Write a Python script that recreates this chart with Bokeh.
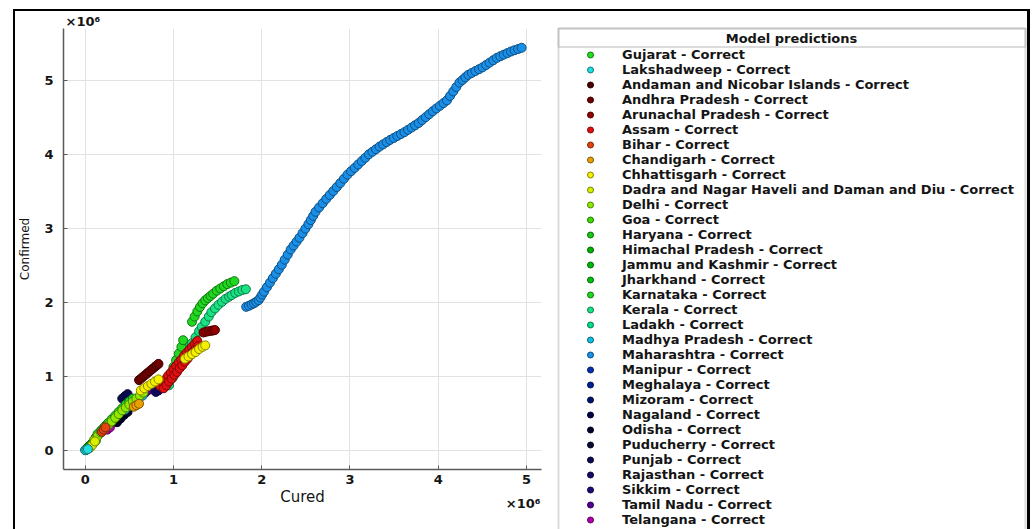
from bokeh.plotting import figure
from bokeh.layouts import row
from bokeh.models import Range1d, FixedTicker, Legend, LegendItem, BoxAnnotation, Label, Title
from bokeh.embed import file_html
from bokeh.resources import INLINE

# ---------------- data (values in millions) ----------------
legend_states = ["Gujarat", "Lakshadweep", "Andaman and Nicobar Islands", "Andhra Pradesh",
                 "Arunachal Pradesh", "Assam", "Bihar", "Chandigarh", "Chhattisgarh",
                 "Dadra and Nagar Haveli and Daman and Diu", "Delhi", "Goa", "Haryana",
                 "Himachal Pradesh", "Jammu and Kashmir", "Jharkhand", "Karnataka", "Kerala",
                 "Ladakh", "Madhya Pradesh", "Maharashtra", "Manipur", "Meghalaya", "Mizoram",
                 "Nagaland", "Odisha", "Puducherry", "Punjab", "Rajasthan", "Sikkim",
                 "Tamil Nadu", "Telangana", "Tripura"]
state_colors = ["#22dd22", "#22dddd", "#4a0000", "#6e0000", "#930000", "#e01010", "#e04410",
                "#eaa000", "#f5f000", "#d8f000", "#8eea00", "#3ddd00", "#14c814", "#00b400",
                "#00b80c", "#00c010", "#1fd81f", "#19e283", "#00dd88", "#14bbe0", "#1a8fe8",
                "#0a2eb0", "#001f90", "#001270", "#000048", "#00002a", "#0a0a38", "#0a0a52",
                "#140a66", "#200a78", "#560092", "#b000b0", "#ff90ff"]
status = "Correct"

maharashtra_cured = [1.824, 1.855, 1.885, 1.912, 1.938, 1.965, 1.985, 2.005, 2.026, 2.059, 2.093, 2.126,
                     2.160, 2.194, 2.228, 2.261, 2.295, 2.328, 2.361, 2.395, 2.428, 2.462, 2.495, 2.529,
                     2.556, 2.583, 2.610, 2.650, 2.691, 2.731, 2.771, 2.811, 2.851, 2.891, 2.932, 2.972,
                     3.012, 3.053, 3.093, 3.133, 3.174, 3.214, 3.254, 3.295, 3.335, 3.375, 3.415, 3.455,
                     3.496, 3.536, 3.577, 3.617, 3.657, 3.698, 3.738, 3.778, 3.818, 3.858, 3.898, 3.938,
                     3.978, 4.018, 4.059, 4.099, 4.134, 4.170, 4.205, 4.240, 4.274, 4.307, 4.341,
                     4.381, 4.421, 4.462, 4.502, 4.542, 4.582, 4.623, 4.663, 4.703, 4.743, 4.784, 4.824,
                     4.864, 4.905, 4.945]
maharashtra_confirmed = [1.942, 1.956, 1.974, 1.990, 2.010, 2.033, 2.068, 2.108, 2.147, 2.208, 2.269, 2.330,
                         2.391, 2.451, 2.512, 2.581, 2.649, 2.718, 2.771, 2.825, 2.878, 2.939, 3.000, 3.061,
                         3.117, 3.173, 3.229, 3.287, 3.345, 3.403, 3.456, 3.510, 3.563, 3.619, 3.676, 3.732,
                         3.778, 3.823, 3.869, 3.915, 3.960, 4.006, 4.041, 4.076, 4.111, 4.141, 4.172, 4.202,
                         4.228, 4.255, 4.281, 4.307, 4.338, 4.369, 4.400, 4.431, 4.471, 4.510, 4.550, 4.590,
                         4.627, 4.663, 4.700, 4.737, 4.797, 4.858, 4.918, 4.978, 5.013, 5.049, 5.084,
                         5.109, 5.134, 5.159, 5.184, 5.216, 5.248, 5.280, 5.312, 5.334, 5.356, 5.377, 5.399,
                         5.416, 5.432, 5.449]

lakshadweep_cured = [0.0, 0.015, 0.03]
lakshadweep_confirmed = [0.0, 0.008, 0.016]
andaman_cured = [0.004, 0.008]
andaman_confirmed = [0.005, 0.009]
andhra_cured = [0.61, 0.64, 0.67, 0.70, 0.73, 0.76, 0.79, 0.81, 0.83]
andhra_confirmed = [0.95, 0.98, 1.01, 1.04, 1.07, 1.10, 1.13, 1.15, 1.17]
arunachal_cured = [1.34, 1.37, 1.40, 1.43, 1.45, 1.47]
arunachal_confirmed = [1.595, 1.605, 1.612, 1.618, 1.623, 1.628]
assam_cured = [0.85, 0.88, 0.91, 0.94, 0.97, 1.00, 1.03, 1.06, 1.09, 1.12, 1.15, 1.18, 1.21, 1.24, 1.27,
               0.89, 0.92, 0.95, 0.98, 1.01, 1.04, 1.07, 1.10, 1.13, 1.16, 1.19, 1.22, 1.25, 1.28]
assam_confirmed = [0.87, 0.92, 0.96, 1.01, 1.05, 1.10, 1.14, 1.19, 1.23, 1.28, 1.32, 1.36, 1.40, 1.44, 1.48,
                   0.84, 0.88, 0.93, 0.97, 1.02, 1.06, 1.11, 1.15, 1.20, 1.24, 1.29, 1.33, 1.37, 1.41]
bihar_cured = [0.19, 0.21, 0.23]
bihar_confirmed = [0.25, 0.28, 0.31]
chandigarh_cured = [0.55, 0.58, 0.61]
chandigarh_confirmed = [0.59, 0.61, 0.63]
chhattisgarh_cured = [0.63, 0.67, 0.71, 0.75, 0.79, 0.83, 1.13, 1.17, 1.21, 1.25, 1.29, 1.33, 1.36]
chhattisgarh_confirmed = [0.81, 0.84, 0.87, 0.90, 0.93, 0.96, 1.24, 1.27, 1.30, 1.33, 1.37, 1.40, 1.42]
dadra_cured = [0.05, 0.08, 0.11]
dadra_confirmed = [0.03, 0.07, 0.12]
delhi_cured = [0.10, 0.14, 0.18, 0.22, 0.26, 0.30, 0.34, 0.38, 0.42, 0.46, 0.50, 0.54, 0.58, 0.62, 0.66]
delhi_confirmed = [0.14, 0.19, 0.24, 0.29, 0.34, 0.39, 0.44, 0.49, 0.54, 0.58, 0.62, 0.66, 0.70, 0.74, 0.78]
goa_cured = [0.02, 0.04]
goa_confirmed = [0.03, 0.05]
gujarat_cured = [0.14, 0.18, 0.22, 0.26, 0.30, 0.34, 0.38, 0.42, 0.46, 0.50, 0.54]
gujarat_confirmed = [0.22, 0.27, 0.32, 0.37, 0.42, 0.47, 0.52, 0.57, 0.62, 0.66, 0.70]
haryana_cured = [0.30, 0.34, 0.38]
haryana_confirmed = [0.38, 0.43, 0.48]
himachal_cured = [0.04, 0.06]
himachal_confirmed = [0.05, 0.07]
jammu_cured = [0.08, 0.11]
jammu_confirmed = [0.10, 0.13]
jharkhand_cured = [0.10, 0.12]
jharkhand_confirmed = [0.11, 0.13]
karnataka_cured = [1.00, 1.03, 1.06, 1.09, 1.11, 1.21, 1.24, 1.27, 1.30, 1.33, 1.36, 1.39, 1.42, 1.45,
                   1.49, 1.53, 1.57, 1.61, 1.65, 1.69]
karnataka_confirmed = [1.13, 1.22, 1.31, 1.40, 1.49, 1.74, 1.81, 1.88, 1.94, 1.99, 2.03, 2.06, 2.09, 2.12,
                       2.16, 2.19, 2.22, 2.25, 2.27, 2.29]
kerala_cured = [0.95, 0.99, 1.03, 1.07, 1.11, 1.15, 1.19, 1.21, 1.25, 1.29, 1.32, 1.36, 1.40, 1.43, 1.47,
                1.51, 1.55, 1.59, 1.63, 1.66, 1.70, 1.74, 1.78, 1.82]
kerala_confirmed = [0.88, 0.98, 1.08, 1.18, 1.28, 1.37, 1.43, 1.45, 1.53, 1.61, 1.67, 1.74, 1.81, 1.87, 1.92,
                    1.97, 2.01, 2.05, 2.08, 2.10, 2.13, 2.15, 2.17, 2.18]
ladakh_cured = [0.01, 0.02]
ladakh_confirmed = [0.01, 0.02]
mp_cured = [0.45, 0.50, 0.55, 0.60, 0.65]
mp_confirmed = [0.55, 0.60, 0.65, 0.70, 0.74]
manipur_cured = [0.02, 0.03]
manipur_confirmed = [0.02, 0.03]
meghalaya_cured = [0.01, 0.015]
meghalaya_confirmed = [0.012, 0.018]
mizoram_cured = [0.005, 0.01]
mizoram_confirmed = [0.006, 0.012]
nagaland_cured = [0.01, 0.012]
nagaland_confirmed = [0.011, 0.013]
odisha_cured = [0.12, 0.15, 0.18, 0.21, 0.24, 0.36, 0.40, 0.44, 0.48]
odisha_confirmed = [0.17, 0.22, 0.26, 0.30, 0.34, 0.38, 0.43, 0.48, 0.52]
puducherry_cured = [0.03, 0.04]
puducherry_confirmed = [0.035, 0.045]
punjab_cured = [0.42, 0.45, 0.48]
punjab_confirmed = [0.70, 0.73, 0.76]
rajasthan_cured = [0.80, 0.83, 0.86, 0.88]
rajasthan_confirmed = [0.79, 0.81, 0.84, 0.86]
sikkim_cured = [0.005, 0.006]
sikkim_confirmed = [0.006, 0.007]
tamilnadu_cured = [0.60, 0.64, 0.68, 0.72]
tamilnadu_confirmed = [0.70, 0.74, 0.78, 0.82]
telangana_cured = [0.25, 0.28]
telangana_confirmed = [0.28, 0.31]
tripura_cured = [0.025, 0.03]
tripura_confirmed = [0.03, 0.035]

x_ticks = [0, 1, 2, 3, 4, 5]
y_ticks = [0, 1, 2, 3, 4, 5]
exponent_text = "×10⁶"
legend_title = "Model predictions"

series = {
    "Gujarat": (gujarat_cured, gujarat_confirmed),
    "Lakshadweep": (lakshadweep_cured, lakshadweep_confirmed),
    "Andaman and Nicobar Islands": (andaman_cured, andaman_confirmed),
    "Andhra Pradesh": (andhra_cured, andhra_confirmed),
    "Arunachal Pradesh": (arunachal_cured, arunachal_confirmed),
    "Assam": (assam_cured, assam_confirmed),
    "Bihar": (bihar_cured, bihar_confirmed),
    "Chandigarh": (chandigarh_cured, chandigarh_confirmed),
    "Chhattisgarh": (chhattisgarh_cured, chhattisgarh_confirmed),
    "Dadra and Nagar Haveli and Daman and Diu": (dadra_cured, dadra_confirmed),
    "Delhi": (delhi_cured, delhi_confirmed),
    "Goa": (goa_cured, goa_confirmed),
    "Haryana": (haryana_cured, haryana_confirmed),
    "Himachal Pradesh": (himachal_cured, himachal_confirmed),
    "Jammu and Kashmir": (jammu_cured, jammu_confirmed),
    "Jharkhand": (jharkhand_cured, jharkhand_confirmed),
    "Karnataka": (karnataka_cured, karnataka_confirmed),
    "Kerala": (kerala_cured, kerala_confirmed),
    "Ladakh": (ladakh_cured, ladakh_confirmed),
    "Madhya Pradesh": (mp_cured, mp_confirmed),
    "Maharashtra": (maharashtra_cured, maharashtra_confirmed),
    "Manipur": (manipur_cured, manipur_confirmed),
    "Meghalaya": (meghalaya_cured, meghalaya_confirmed),
    "Mizoram": (mizoram_cured, mizoram_confirmed),
    "Nagaland": (nagaland_cured, nagaland_confirmed),
    "Odisha": (odisha_cured, odisha_confirmed),
    "Puducherry": (puducherry_cured, puducherry_confirmed),
    "Punjab": (punjab_cured, punjab_confirmed),
    "Rajasthan": (rajasthan_cured, rajasthan_confirmed),
    "Sikkim": (sikkim_cured, sikkim_confirmed),
    "Tamil Nadu": (tamilnadu_cured, tamilnadu_confirmed),
    "Telangana": (telangana_cured, telangana_confirmed),
    "Tripura": (tripura_cured, tripura_confirmed),
}

draw_order = ["Andaman and Nicobar Islands", "Meghalaya", "Mizoram", "Nagaland", "Sikkim", "Puducherry",
              "Manipur", "Tripura", "Ladakh", "Goa", "Himachal Pradesh", "Jammu and Kashmir", "Jharkhand",
              "Haryana", "Telangana", "Tamil Nadu", "Odisha", "Punjab", "Rajasthan", "Madhya Pradesh",
              "Gujarat", "Delhi", "Bihar", "Chandigarh", "Dadra and Nagar Haveli and Daman and Diu",
              "Kerala", "Karnataka", "Assam", "Andhra Pradesh", "Arunachal Pradesh", "Chhattisgarh",
              "Lakshadweep", "Maharashtra"]


def darker(hex_color, f=0.55):
    h = hex_color.lstrip("#")
    r, g, b = (int(h[i:i + 2], 16) for i in (0, 2, 4))
    return "#%02x%02x%02x" % (int(r * f), int(g * f), int(b * f))


FONT = "DejaVu Sans"
TXT = "#151515"
color_of = dict(zip(legend_states, state_colors))

# ---------------- scatter panel ----------------
p1 = figure(width=529, height=518, output_backend="svg", toolbar_location=None,
            x_range=Range1d(-0.246, 5.17), y_range=Range1d(-0.26, 5.71),
            min_border_left=46, min_border_right=3, min_border_top=17, min_border_bottom=60,
            background_fill_color="white", border_fill_color="white")
p1.outline_line_color = None
p1.frame_align = False

for st in draw_order:
    cx, cy = series[st]
    c = color_of[st]
    p1.scatter(cx, cy, size=9, fill_color=c, line_color=darker(c), line_width=1)

for ax, ticks in ((p1.xaxis[0], x_ticks), (p1.yaxis[0], y_ticks)):
    ax.ticker = FixedTicker(ticks=ticks)
    ax.major_tick_in = 4
    ax.major_tick_out = 0
    ax.minor_tick_line_color = None
    ax.axis_line_color = "#5a5a5a"
    ax.axis_line_width = 1.5
    ax.major_tick_line_color = "#5a5a5a"
    ax.major_label_text_font = FONT
    ax.major_label_text_font_style = "bold"
    ax.major_label_text_font_size = "13px"
    ax.major_label_text_color = TXT
    ax.axis_label_text_font = FONT
    ax.axis_label_text_font_style = "normal"
    ax.axis_label_text_color = TXT

p1.xaxis.axis_label = "Cured"
p1.xaxis.axis_label_text_font_size = "15px"
p1.xaxis.major_label_standoff = 5
p1.xaxis.axis_label_standoff = 1
p1.yaxis.axis_label = "Confirmed"
p1.yaxis.axis_label_text_font_size = "12px"
p1.yaxis.major_label_standoff = 10
p1.yaxis.axis_label_standoff = 9

p1.grid.grid_line_color = "#e2e2e2"
p1.grid.grid_line_width = 1

p1.title = Title(text=exponent_text, align="left", offset=2, standoff=0, text_font=FONT,
                 text_font_size="13px", text_font_style="bold", text_color=TXT)
p1.add_layout(Label(x=525, y=492, x_units="canvas", y_units="canvas", text=exponent_text,
                    text_font=FONT, text_font_size="13px", text_font_style="bold", text_color=TXT,
                    text_align="right", text_baseline="middle"), "below")

# ---------------- legend panel ----------------
W2, H2 = 483, 518
p2 = figure(width=W2, height=H2, output_backend="svg", toolbar_location=None,
            x_range=Range1d(0, W2), y_range=Range1d(H2, 0),
            min_border=0, x_axis_location=None, y_axis_location=None,
            background_fill_color="white", border_fill_color="white")
p2.outline_line_color = None
p2.grid.visible = False
p2.frame_align = False

nan = float("nan")
proxies = {}
for st in legend_states:
    c = color_of[st]
    proxies[st] = p2.scatter(x=[nan], y=[nan], size=9, fill_color=c, line_color=darker(c), line_width=1)

items = [LegendItem(label=f"{st} - {status}", renderers=[proxies[st]]) for st in legend_states]
legend = Legend(items=items, location="top_left", orientation="vertical",
                padding=0, margin=36, spacing=0, label_height=15, glyph_height=15, glyph_width=20,
                label_standoff=22, label_text_font=FONT, label_text_font_size="13px",
                label_text_font_style="bold", label_text_color=TXT,
                border_line_color=None, background_fill_alpha=0)
p2.add_layout(legend)

p2.add_layout(BoxAnnotation(left=14, right=481, top=17, bottom=700, fill_alpha=0,
                            line_color="#8c8c8c", line_width=2))
p2.add_layout(BoxAnnotation(left=14, right=481, top=17, bottom=35.5, fill_alpha=0,
                            line_color="#8c8c8c", line_width=2))
p2.add_layout(Label(x=247, y=26.5, text=legend_title, text_font=FONT, text_font_size="13px",
                    text_font_style="bold", text_color=TXT, text_align="center", text_baseline="middle"))

layout = row(p1, p2, styles={"margin-left": "13px", "margin-top": "9px",
                             "border-left": "2px solid black", "border-top": "2px solid black",
                             "border-right": "3px solid black"})

open("out.html", "w").write(file_html(layout, INLINE))
